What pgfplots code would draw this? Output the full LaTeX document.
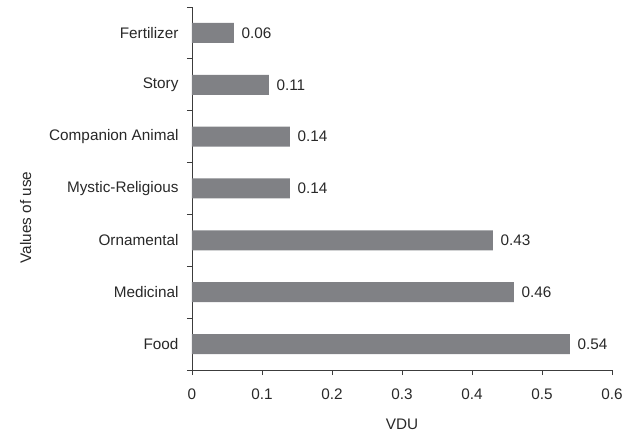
\documentclass[border=0pt]{standalone}
\usepackage{pgfplots}
\pgfplotsset{compat=1.18}
\usepackage{fontspec}
\setmainfont{Liberation Sans}
\definecolor{barc}{RGB}{128,129,133}
\definecolor{axc}{RGB}{60,60,60}
\definecolor{txt}{RGB}{40,40,40}
\newcommand{\chartfont}{\fontsize{15.3}{18}\selectfont}
\begin{document}
\begin{tikzpicture}
\useasboundingbox (-192pt,-64pt) rectangle (443pt,370pt);
\begin{axis}[
  width=420pt, height=363pt,
  scale only axis,
  xbar, bar width=20pt,
  xmin=0, xmax=0.6,
  ymin=-0.5, ymax=6.5,
  axis lines*=left,
  axis line style={axc, line width=0.9pt},
  every tick/.style={axc, line width=0.9pt},
  tick align=outside,
  xtick={0,0.1,...,0.6},
  xticklabels={0,0.1,0.2,0.3,0.4,0.5,0.6},
  ytick={0,...,6},
  yticklabels={Food,Medicinal,Ornamental,Mystic-Religious,Companion Animal,Story,Fertilizer},
  minor ytick={-0.5,0.5,...,6.5},
  major tick length=5pt,
  minor tick length=5pt,
  every major y tick/.append style={draw=none},
  /pgf/number format/assume math mode=true,
  tick label style={font=\chartfont, text=txt},
  yticklabel style={xshift=-5pt},
  xticklabel style={yshift=-10pt},
  every axis y label/.style={at={(axis description cs:-0.396,0.42)}, rotate=90, anchor=center, font=\chartfont, text=txt},
  every axis x label/.style={at={(axis description cs:0.5,-0.149)}, anchor=center, font=\chartfont, text=txt},
  xlabel={VDU},
  ylabel={Values of use},
  nodes near coords,
  point meta=x,
  nodes near coords style={font=\chartfont, text=txt, anchor=west, xshift=4pt,
    /pgf/number format/.cd, fixed, fixed zerofill, precision=2, assume math mode=true},
]
\addplot[fill=barc, draw=none] table[row sep=crcr] {%
x	y\\
0.54	0\\
0.46	1\\
0.43	2\\
0.14	3\\
0.14	4\\
0.11	5\\
0.06	6\\
};
\end{axis}
\end{tikzpicture}
\end{document}
